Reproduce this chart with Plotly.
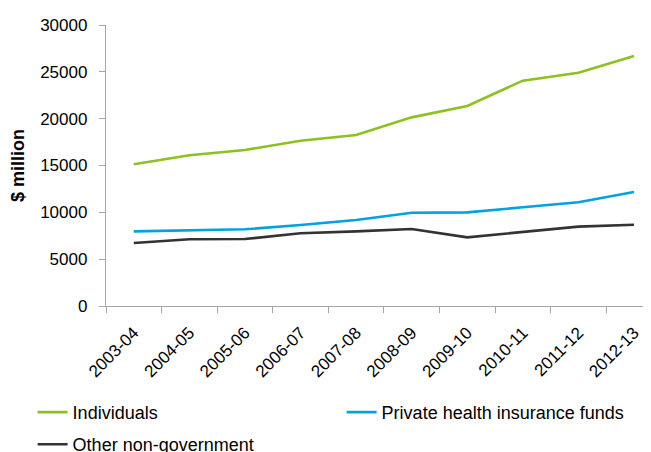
import plotly.graph_objects as go

years = ["2003-04", "2004-05", "2005-06", "2006-07", "2007-08",
         "2008-09", "2009-10", "2010-11", "2011-12", "2012-13"]
individuals = [15130, 16090, 16650, 17650, 18260, 20140, 21350, 24060, 24910, 26690]
private_health = [7970, 8110, 8190, 8650, 9180, 9960, 10000, 10540, 11070, 12170]
other_nongov = [6730, 7120, 7150, 7760, 7970, 8220, 7330, 7870, 8470, 8680]

series = [
    ("Individuals", individuals, "#8CC11F", "legend"),
    ("Private health insurance funds", private_health, "#00A2DF", "legend"),
    ("Other non-government", other_nongov, "#333333", "legend2"),
]

fig = go.Figure()
for name, vals, color, lg in series:
    fig.add_trace(go.Scatter(x=years, y=vals, name=name, mode="lines", legend=lg,
                             line=dict(color=color, width=2.6)))

font = "Liberation Sans, Arial, sans-serif"
legend_common = dict(orientation="h", xanchor="left", yanchor="top",
                     font=dict(size=18, family=font, color="#000000"),
                     bgcolor="rgba(0,0,0,0)")
fig.update_layout(
    width=651, height=452,
    margin=dict(l=98, r=0, t=17, b=154, autoexpand=False),
    paper_bgcolor="white", plot_bgcolor="white",
    font=dict(family=font, size=17, color="#000000"),
    showlegend=True,
    legend=dict(x=-0.1327, y=-0.313, entrywidth=264, entrywidthmode="pixels",
                **legend_common),
    legend2=dict(x=-0.1327, y=-0.427, **legend_common),
    xaxis=dict(type="category", range=[-0.5, 9.45], tickangle=-45, automargin=False,
               showline=True, linecolor="#A6A6A6", linewidth=1.3,
               ticks="outside", tickson="boundaries", ticklen=6, tickcolor="#A6A6A6",
               ticklabelstandoff=9,
               showgrid=False, zeroline=False, tickfont=dict(size=17)),
    yaxis=dict(range=[0, 30000], dtick=5000, tickformat="d", automargin=False,
               showline=True, linecolor="#A6A6A6", linewidth=1.3,
               ticks="outside", ticklen=6, tickcolor="#A6A6A6",
               ticklabelstandoff=8,
               showgrid=False, zeroline=False, tickfont=dict(size=17),
               title=dict(text="<b>$ million</b>", font=dict(size=18), standoff=12)),
)

fig.write_html("out.html")
